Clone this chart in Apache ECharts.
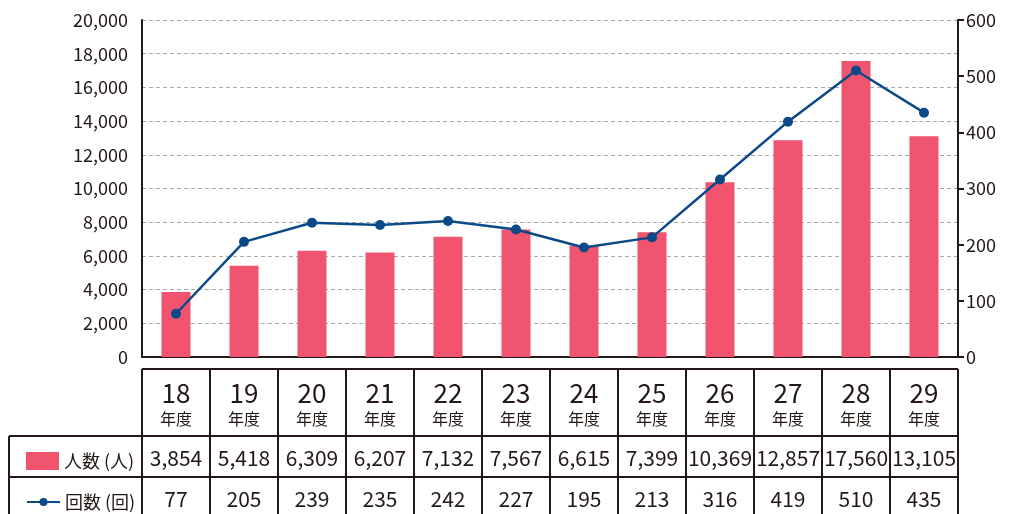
<!DOCTYPE html>
<html>
<head>
<meta charset="utf-8">
<script src="https://cdn.jsdelivr.net/npm/echarts@6/dist/echarts.min.js"></script>
<style>
html,body{margin:0;padding:0;background:#fff;}
#main{width:1010px;height:514px;}
</style>
</head>
<body>
<div id="main"></div>
<script>
// 年度
var years = ['18','19','20','21','22','23','24','25','26','27','28','29'];
// 人数（人）
var people = [3854, 5418, 6309, 6207, 7132, 7567, 6615, 7399, 10369, 12857, 17560, 13105];
// 回数（回）
var times = [77, 205, 239, 235, 242, 227, 195, 213, 316, 419, 510, 435];
var leftTicks = [0, 20000, 2000];
var rightTicks = [0, 600, 100];

var FONT = '"Noto Sans CJK JP", "Noto Sans", sans-serif';
var INK = '#231815';
var PINK = '#F0546F';
var BLUE = '#0B4A87';

function fmt(v){
	return String(v).replace(/\B(?=(\d{3})+(?!\d))/g, ',');
}
// 凡例の括弧は詰めて表示
function legendName(name){
	return name.replace('（', ' (').replace('）', ')');
}

var chart = echarts.init(document.getElementById('main'));
var legendText = {fontFamily: FONT, fontSize: 18, color: INK};
var option = {
	animation: false,
	textStyle: {fontFamily: FONT},
	grid: {left: 142, right: 52, top: 20, bottom: 157},
	legend: [{
		left: 21,
		top: 447,
		itemWidth: 33,
		itemHeight: 18,
		selectedMode: false,
		formatter: legendName,
		textStyle: legendText,
		data: [{name: '人数（人）', icon: 'rect'}]
	}, {
		left: 21,
		top: 488,
		itemWidth: 33,
		itemHeight: 10,
		selectedMode: false,
		formatter: legendName,
		textStyle: legendText,
		data: ['回数（回）']
	}],
	xAxis: {
		type: 'category',
		data: years,
		axisLine: {lineStyle: {color: INK, width: 2}},
		axisTick: {show: false},
		axisLabel: {show: false}
	},
	yAxis: [{
		type: 'value',
		min: leftTicks[0], max: leftTicks[1], interval: leftTicks[2],
		axisLine: {show: true, lineStyle: {color: INK, width: 2}},
		axisTick: {show: false},
		axisLabel: {fontSize: 18, color: INK, margin: 14, fontFamily: FONT,
			formatter: function(v){ return fmt(v); }},
		splitLine: {lineStyle: {color: '#A8A8A8', type: [4, 3], width: 1.2}}
	}, {
		type: 'value',
		min: rightTicks[0], max: rightTicks[1], interval: rightTicks[2],
		position: 'right',
		axisLine: {show: true, lineStyle: {color: INK, width: 2}},
		axisTick: {show: true, inside: false, length: 6, lineStyle: {color: INK, width: 2}},
		axisLabel: {fontSize: 18, color: INK, margin: 8, fontFamily: FONT},
		splitLine: {show: false}
	}],
	series: [{
		name: '人数（人）',
		type: 'bar',
		data: people,
		barWidth: 29,
		itemStyle: {color: PINK}
	}, {
		name: '回数（回）',
		type: 'line',
		yAxisIndex: 1,
		data: times,
		symbol: 'circle',
		symbolSize: 10,
		lineStyle: {color: BLUE, width: 2.5},
		itemStyle: {color: BLUE}
	}]
};
chart.setOption(option);

// 表（データテーブル）
function buildTable(){
	var x0 = chart.convertToPixel({xAxisIndex: 0}, 0);
	var x1 = chart.convertToPixel({xAxisIndex: 0}, 1);
	var band = x1 - x0;
	var left = x0 - band / 2;
	var right = left + band * years.length;
	var rowTop = 369, rowHead = 436, rowPeople = 477, rowBottom = 530;
	var labelLeft = 9;
	var ls = {stroke: INK, lineWidth: 2};
	var g = [];
	function line(xa, ya, xb, yb){
		g.push({type: 'line', shape: {x1: xa, y1: ya, x2: xb, y2: yb}, style: ls, silent: true});
	}
	line(left, rowTop, right, rowTop);
	line(labelLeft, rowHead, right, rowHead);
	line(labelLeft, rowPeople, right, rowPeople);
	line(labelLeft, rowHead, labelLeft, rowBottom);
	for (var i = 0; i <= years.length; i++) {
		var x = left + band * i;
		line(x, rowTop, x, rowBottom);
	}
	for (var j = 0; j < years.length; j++) {
		var cx = chart.convertToPixel({xAxisIndex: 0}, j);
		g.push({type: 'text', x: cx, y: 393, silent: true,
			style: {text: years[j], fontSize: 26, fontFamily: FONT, fill: INK, align: 'center', verticalAlign: 'middle'}});
		g.push({type: 'text', x: cx, y: 419, silent: true,
			style: {text: '年度', fontSize: 16, fontFamily: FONT, fill: INK, align: 'center', verticalAlign: 'middle'}});
		g.push({type: 'text', x: cx, y: 458, silent: true,
			style: {text: fmt(people[j]), fontSize: 21, fontFamily: FONT, fill: INK, align: 'center', verticalAlign: 'middle'}});
		g.push({type: 'text', x: cx, y: 499, silent: true,
			style: {text: fmt(times[j]), fontSize: 21, fontFamily: FONT, fill: INK, align: 'center', verticalAlign: 'middle'}});
	}
	chart.setOption({graphic: g});
}
buildTable();
</script>
</body>
</html>
